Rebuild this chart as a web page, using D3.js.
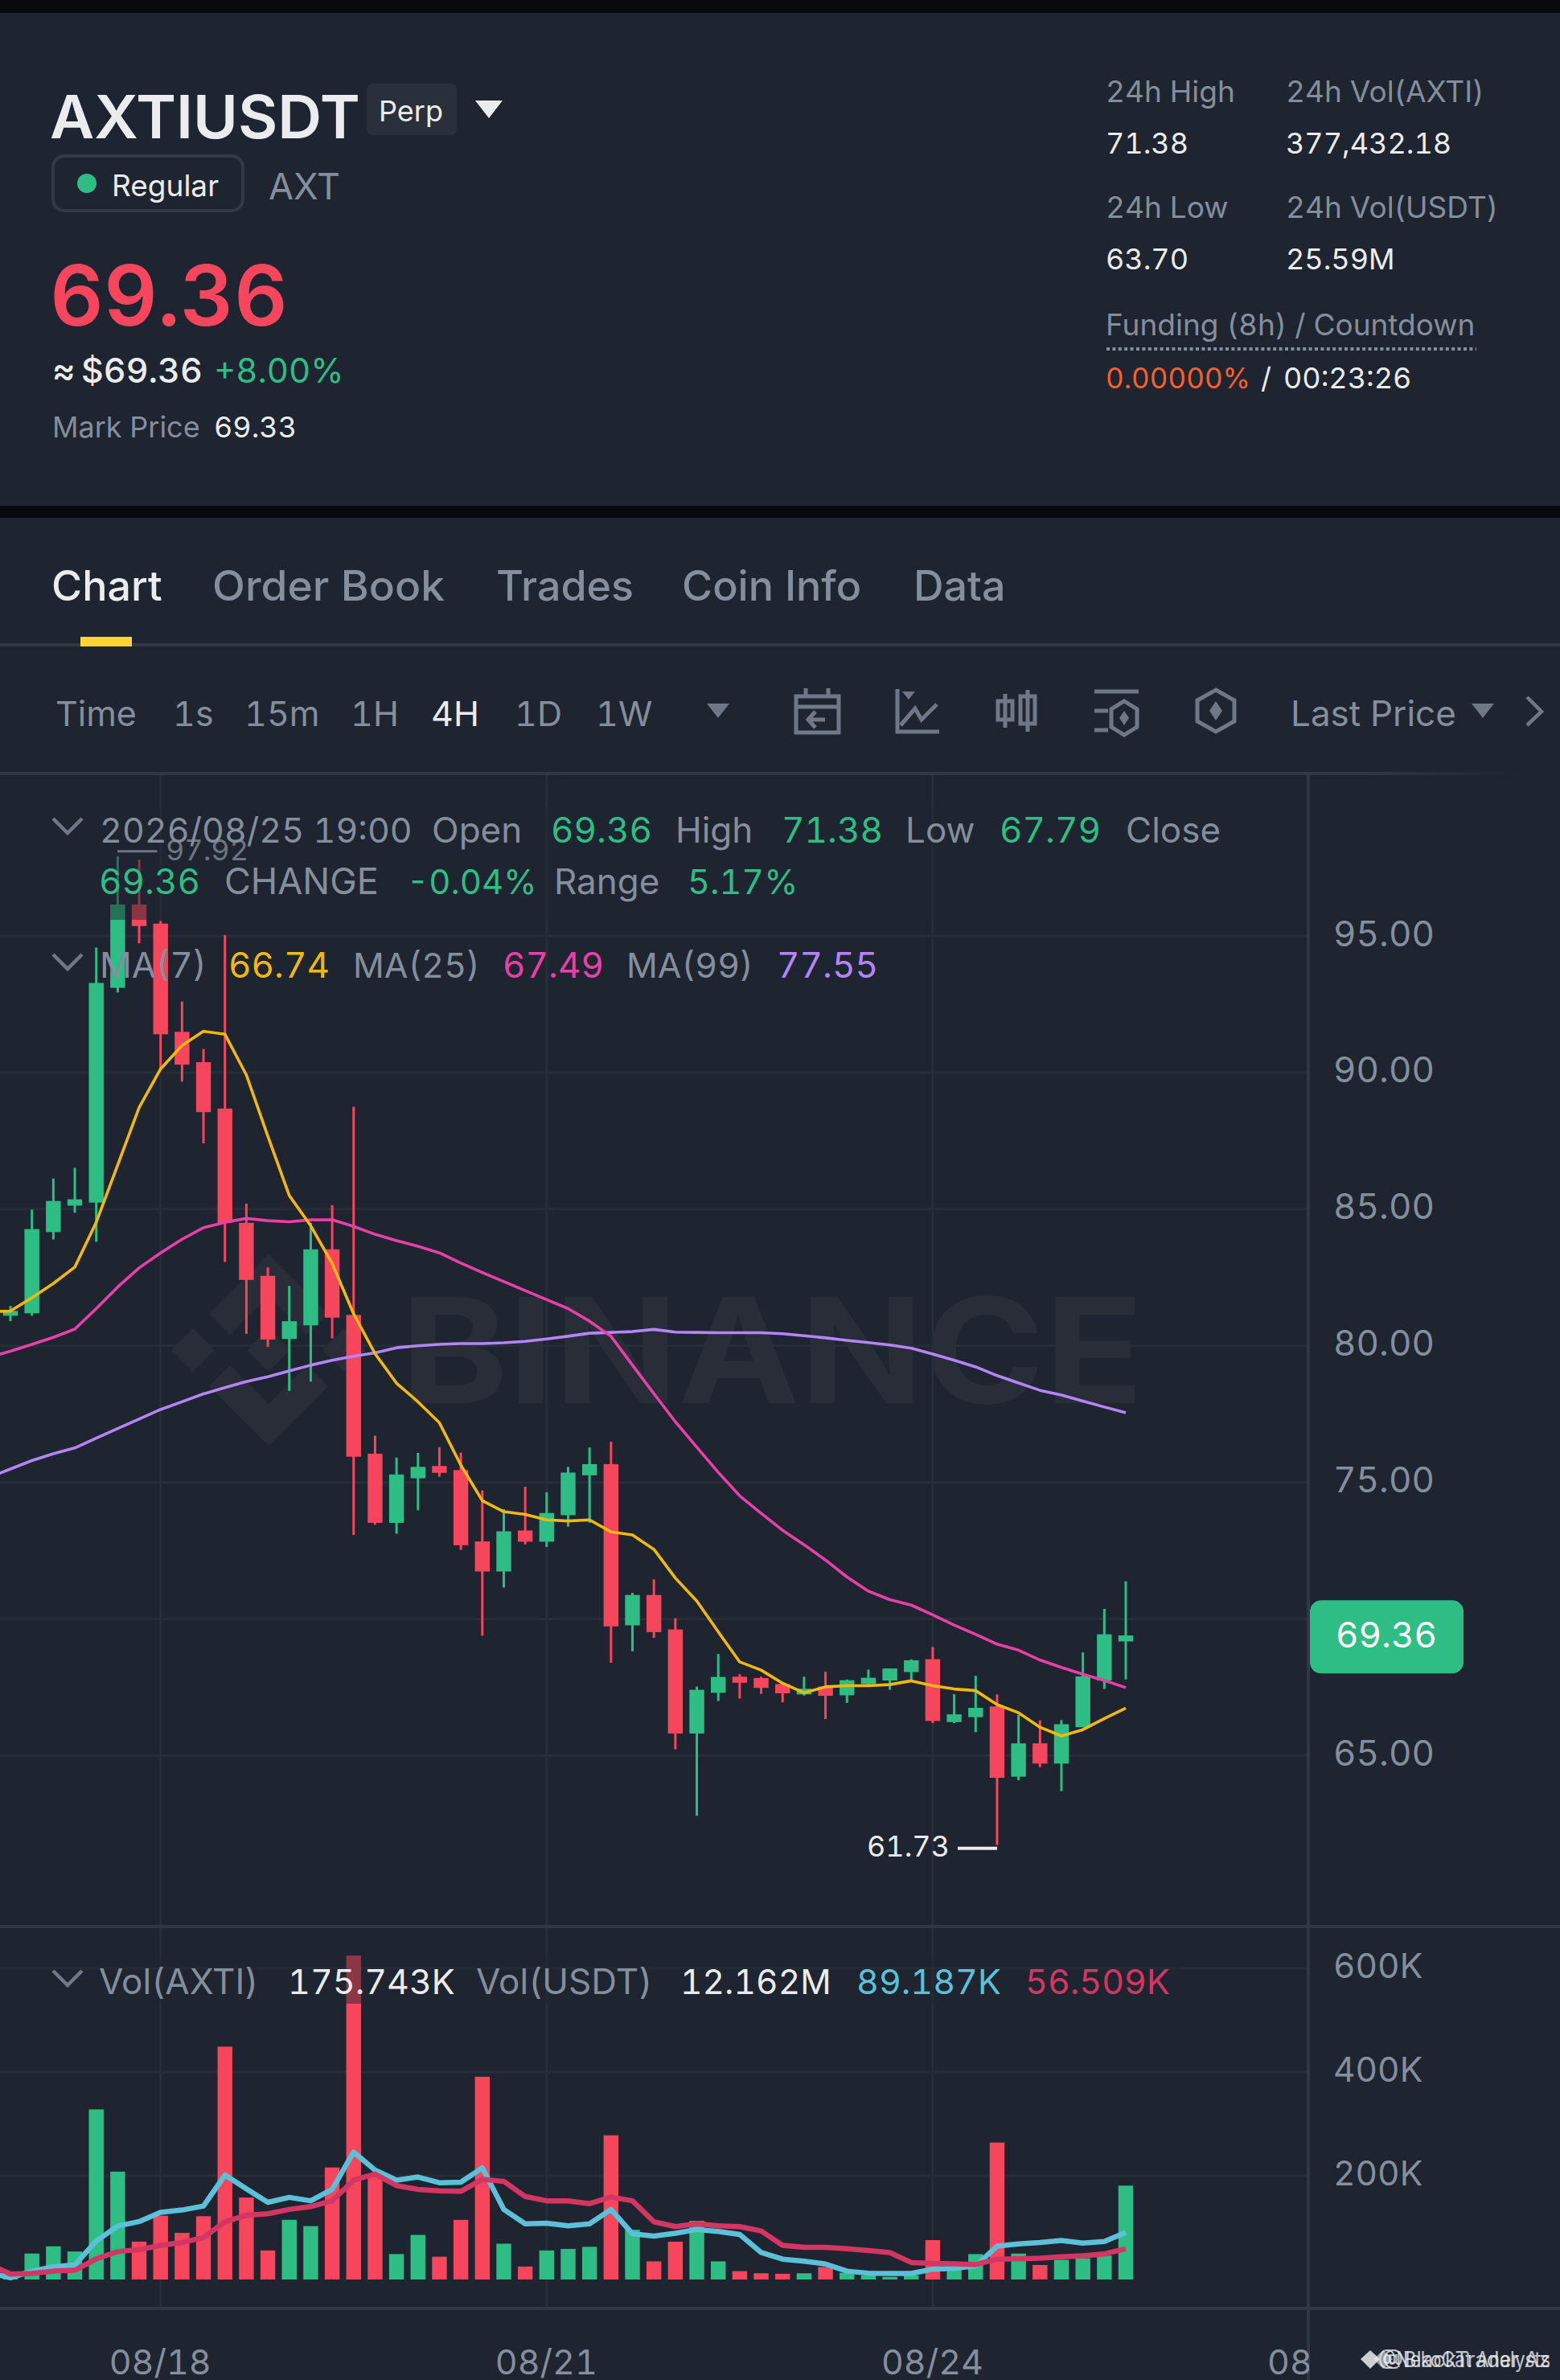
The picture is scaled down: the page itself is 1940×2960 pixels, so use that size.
<!DOCTYPE html>
<html>
<head>
<meta charset="utf-8">
<title>AXTIUSDT</title>
<script src="https://cdn.jsdelivr.net/npm/d3@7"></script>
<style>
  html, body { margin: 0; padding: 0; background: #1e2530; }
  svg { display: block; }
  text { font-family: Inter, "Noto Sans", sans-serif; font-variant-numeric: tabular-nums; font-feature-settings: "tnum"; }
  .domain { display: none; }
</style>
</head>
<body>
<svg id="chart" width="1940" height="2960"></svg>
<script>
//

const opens = [81.10, 81.19, 84.16, 85.13, 85.24, 93.10, 96.15, 95.45, 91.49, 90.38, 88.68, 84.50, 82.56, 80.25, 80.75, 83.53, 81.13, 76.05, 73.52, 75.15, 75.60, 75.45, 72.84, 71.74, 73.24, 72.83, 73.80, 75.26, 75.67, 69.77, 70.88, 69.62, 65.81, 67.30, 67.89, 67.84, 67.62, 67.24, 67.53, 67.21, 67.62, 67.75, 68.06, 68.53, 66.23, 66.41, 66.80, 64.23, 65.45, 64.71, 66.04, 67.75, 69.18]
const highs = [81.46, 84.98, 86.12, 86.51, 94.57, 97.92, 97.79, 95.55, 92.60, 90.86, 95.03, 85.20, 82.87, 82.19, 84.50, 85.15, 88.75, 76.71, 75.91, 76.08, 76.29, 76.09, 74.71, 74.02, 74.84, 74.64, 75.57, 76.28, 76.49, 70.96, 71.45, 70.03, 67.53, 68.72, 67.98, 67.89, 67.67, 67.89, 68.07, 67.79, 68.15, 68.19, 68.52, 68.98, 67.25, 67.92, 67.24, 66.49, 66.29, 66.30, 68.78, 70.37, 71.38]
const lows = [80.90, 81.10, 83.89, 84.87, 83.80, 92.93, 94.73, 90.13, 89.67, 87.41, 83.07, 80.44, 79.96, 78.35, 78.69, 80.27, 73.08, 73.45, 73.12, 73.98, 75.21, 72.53, 69.39, 71.15, 72.73, 72.64, 73.38, 73.52, 68.40, 68.82, 69.31, 65.23, 62.80, 67.00, 67.09, 67.26, 66.95, 67.20, 66.34, 66.93, 67.58, 67.41, 67.75, 66.19, 66.19, 65.86, 61.73, 64.10, 64.58, 63.70, 66.04, 67.44, 67.79]
const closes = [81.28, 84.27, 85.30, 85.36, 93.28, 96.15, 95.36, 91.40, 90.29, 88.55, 84.50, 82.41, 80.23, 80.90, 83.53, 81.03, 75.94, 73.52, 75.29, 75.57, 75.35, 72.70, 71.74, 73.21, 72.83, 73.88, 75.36, 75.67, 69.73, 70.88, 69.52, 65.81, 67.41, 67.88, 67.67, 67.48, 67.28, 67.45, 67.19, 67.76, 67.85, 68.19, 68.49, 66.27, 66.51, 66.75, 64.19, 65.45, 64.71, 66.15, 67.90, 69.44, 69.40]

// moving averages start one candle before the first visible one
const ma7 = [81.25, 81.27, 81.76, 82.28, 82.88, 84.52, 86.62, 88.72, 90.13, 90.99, 91.51, 91.40, 89.91, 87.67, 85.50, 84.39, 83.01, 81.17, 79.71, 78.63, 77.95, 77.18, 75.63, 74.33, 73.93, 73.83, 73.63, 73.59, 73.63, 73.19, 73.08, 72.55, 71.50, 70.66, 69.53, 68.43, 68.13, 67.65, 67.30, 67.52, 67.56, 67.56, 67.60, 67.74, 67.56, 67.44, 67.38, 66.87, 66.57, 66.04, 65.72, 65.95, 66.36, 66.74]
const ma25 = [79.59, 79.80, 80.05, 80.31, 80.61, 81.36, 82.15, 82.85, 83.40, 83.90, 84.32, 84.52, 84.66, 84.58, 84.54, 84.61, 84.61, 84.37, 84.08, 83.85, 83.64, 83.40, 83.03, 82.68, 82.35, 82.02, 81.69, 81.36, 80.90, 80.35, 79.29, 78.25, 77.22, 76.29, 75.37, 74.51, 73.87, 73.25, 72.72, 72.16, 71.54, 71.02, 70.71, 70.51, 70.15, 69.78, 69.44, 69.08, 68.86, 68.50, 68.23, 67.98, 67.75, 67.49]
const ma99 = [75.18, 75.49, 75.80, 76.05, 76.26, 76.62, 76.97, 77.32, 77.67, 77.95, 78.24, 78.47, 78.69, 78.87, 79.08, 79.29, 79.47, 79.62, 79.74, 79.93, 80.00, 80.05, 80.08, 80.08, 80.11, 80.16, 80.25, 80.35, 80.46, 80.49, 80.52, 80.60, 80.50, 80.49, 80.48, 80.48, 80.48, 80.44, 80.37, 80.29, 80.20, 80.12, 80.03, 79.91, 79.70, 79.47, 79.23, 78.91, 78.64, 78.37, 78.20, 77.98, 77.76, 77.55]

const volumes = [9, 50, 64, 54, 328, 208, 73, 123, 90, 122, 449, 158, 56, 115, 103, 216, 624, 200, 49, 86, 44, 115, 391, 69, 25, 56, 59, 63, 278, 96, 35, 73, 113, 35, 16, 12, 11, 12, 24, 13, 8, 5, 8, 76, 22, 49, 264, 50, 28, 38, 41, 46, 181]
const volFast = [13.3, 3.3, 16.1, 24.4, 28.2, 74.2, 103, 111.8, 129.5, 134, 141.7, 201.5, 174.9, 148.9, 158.3, 151.7, 173.8, 245.8, 210.9, 191.5, 197.6, 186.6, 187.7, 215.3, 135.1, 107.4, 108.5, 103.5, 107.4, 135.1, 88, 83.6, 89.1, 96.3, 92.5, 86.9, 52, 39.3, 35.4, 29.9, 16.1, 12.2, 11.6, 11.6, 19.9, 21.6, 26, 64.2, 68.6, 71.4, 75.3, 70.3, 73.1, 90.8]
const volSlow = [29.9, 10.5, 11.6, 16.1, 17.7, 39.9, 53.7, 57.6, 65.9, 71.4, 80.8, 111.3, 124, 126.8, 135.1, 140.6, 151.7, 191.5, 203.2, 181, 173.8, 171.1, 170, 193.2, 189.3, 160, 151.7, 151.7, 146.2, 158.9, 151.7, 111.3, 101.9, 107.4, 103.5, 101.9, 93.6, 65.9, 62, 62, 59.2, 55.9, 52, 32.7, 31, 30.4, 28.8, 39.3, 39.9, 41, 43.7, 45.9, 49.3, 59.2]

const priceGrid = [95, 90, 85, 80, 75, 70, 65]
const priceTicks = [95, 90, 85, 80, 75, 65]
const volTicks = [200, 400, 600]
const dateIndex = [7, 25, 43, 61]
const dateLabels = ['08/18', '08/21', '08/24', '08/27']

const tabNames = ['Chart', 'Order Book', 'Trades', 'Coin Info', 'Data']
const intervalNames = ['Time', '1s', '15m', '1H', '4H', '1D', '1W']

//

const UP = '#2ebd85'
const DOWN = '#f6465d'
const BG = '#1e2530'
const GRID = '#272e39'
const RULE = '#313845'
const GREY = '#848e9c'
const LIGHT = '#eaecef'
const ICON = '#6f7886'
const YELLOW = '#f0b90b'
const PINK = '#e83fa8'
const PURPLE = '#b585f7'
const TEAL = '#5bc0d8'
const CRIMSON = '#d43663'

const svg = d3.select('#chart')

function label (x, y, str, size, fill, weight, anchor) {
  return svg.append('text')
    .attr('x', x - 2)
    .attr('y', y)
    .attr('font-size', size)
    .attr('font-weight', weight || 400)
    .attr('text-anchor', anchor || 'start')
    .attr('fill', fill)
    .text(str)
}

function rule (x1, y1, x2, y2, color, width) {
  return svg.append('line')
    .attr('x1', x1).attr('y1', y1)
    .attr('x2', x2).attr('y2', y2)
    .attr('stroke', color)
    .attr('stroke-width', width)
}

function shape (d, fill, stroke, width) {
  return svg.append('path')
    .attr('d', d)
    .attr('fill', fill || 'none')
    .attr('stroke', stroke || 'none')
    .attr('stroke-width', width || 0)
}

function chevron (x, y) {
  shape(`M${x} ${y}L${x + 18} ${y + 18}L${x + 36} ${y}`, null, ICON, 4.5)
}

// page blocks

svg.append('rect').attr('width', 1940).attr('height', 2960).attr('fill', BG)
svg.append('rect').attr('width', 1940).attr('height', 16).attr('fill', '#07090d')
svg.append('rect').attr('y', 629).attr('width', 1940).attr('height', 15).attr('fill', '#07090d')

// header, left

label(64, 172, 'AXTIUSDT', 74, LIGHT, 600).attr('textLength', 386).attr('lengthAdjust', 'spacingAndGlyphs')
svg.append('rect').attr('x', 456).attr('y', 104).attr('width', 112).attr('height', 64).attr('rx', 7).attr('fill', '#2a303b')
label(473, 151, 'Perp', 36, LIGHT)
shape('M591 125L625 125L608 147Z', LIGHT)
svg.append('rect').attr('x', 66).attr('y', 194).attr('width', 236).attr('height', 68).attr('rx', 14)
  .attr('fill', 'none').attr('stroke', '#333a46').attr('stroke-width', 4)
svg.append('circle').attr('cx', 108).attr('cy', 228).attr('r', 12).attr('fill', UP)
label(141, 244, 'Regular', 37, LIGHT)
label(336, 248, 'AXT', 45, GREY)
label(64, 405, '69.36', 104, DOWN, 600).attr('textLength', 296).attr('lengthAdjust', 'spacingAndGlyphs')
label(67, 476, '≈', 44, LIGHT, 500)
label(103, 476, '$69.36', 43, LIGHT, 500)
label(268, 476, '+8.00%', 42, UP, 400)
label(67, 544, 'Mark Price', 36, GREY)
label(268, 544, '69.33', 36, LIGHT)

// header, right

label(1377, 127, '24h High', 37, GREY)
label(1377, 191, '71.38', 36, LIGHT)
label(1601, 127, '24h Vol(AXTI)', 37, GREY)
label(1601, 191, '377,432.18', 36, LIGHT)
label(1377, 271, '24h Low', 37, GREY)
label(1377, 335, '63.70', 36, LIGHT)
label(1601, 271, '24h Vol(USDT)', 37, GREY)
label(1601, 335, '25.59M', 36, LIGHT)
label(1377, 417, 'Funding (8h) / Countdown', 37, GREY)
rule(1376, 434, 1836, 434, GREY, 4).attr('stroke-dasharray', '4 3.4')
label(1377, 483, '0.00000%', 35, '#f6602d')
label(1570, 483, '/', 36, LIGHT)
label(1598, 483, '00:23:26', 36, LIGHT)

// tabs

const tabX = [66, 266, 619, 850, 1138]
tabNames.forEach((name, i) => {
  const t = label(tabX[i], 747, name, 52, i === 0 ? LIGHT : GREY, 500)
  if (name === 'Order Book') {
    t.attr('textLength', 289).attr('lengthAdjust', 'spacingAndGlyphs')
  }
})
rule(0, 802, 1940, 802, RULE, 4)
svg.append('rect').attr('x', 100).attr('y', 792).attr('width', 64).attr('height', 12).attr('fill', '#fcd535')

// toolbar

const intervalX = [71, 217, 306, 438, 538, 642, 743]
intervalNames.forEach((name, i) => {
  label(intervalX[i], 903, name, 43, name === '4H' ? LIGHT : GREY)
})
shape('M879 875L907 875L893 893Z', ICON)
shape('M990 866H1043V911H990ZM990 879H1043M1002 856V866M1030 856V866', null, ICON, 5)
shape('M1026 895H1006M1014 885L1005 895L1014 905', null, ICON, 5)
shape('M1116 857V910H1168', null, ICON, 5)
shape('M1122 860H1138L1130 870Z', ICON)
shape('M1120 902L1138 881L1146 895L1165 876', null, ICON, 5)
shape('M1241 872H1259V895H1241ZM1250 863V905M1269 866H1287V900H1269ZM1278 858V910', null, ICON, 5)
shape('M1361 860H1416M1361 884H1378M1361 908H1378', null, ICON, 5)
shape('M1398 872L1414 882V904L1398 914L1382 904V882Z', null, ICON, 5)
shape('M1398 884L1404 893L1398 902L1392 893Z', ICON)
shape('M1512 858L1535 871V897L1512 910L1489 897V871Z', null, ICON, 5)
shape('M1512 872L1520 884L1512 896L1504 884Z', ICON)
label(1607, 903, 'Last Price', 44, GREY)
shape('M1830 875L1858 875L1844 893Z', ICON)
shape('M1899 867L1917 885L1899 902', null, ICON, 4.5)

//

const defs = svg.append('defs')
const fade = defs.append('linearGradient').attr('id', 'fade')
fade.append('stop').attr('offset', 0.9).attr('stop-color', RULE)
fade.append('stop').attr('offset', 1).attr('stop-color', BG)
svg.append('rect').attr('y', 960).attr('width', 1890).attr('height', 4).attr('fill', 'url(#fade)')

defs.append('clipPath').attr('id', 'plot')
  .append('rect').attr('width', 1627).attr('height', 2960)

const x = d3.scaleLinear().domain([0, 52]).range([13, 1400])
const y = d3.scaleLinear().domain([95, 65]).range([1164, 2183.5])
const yVol = d3.scaleLinear().domain([0, 600]).range([2835, 2448])

const bodyW = 18.4
const isUp = (i) => closes[i] >= opens[i]
const color = (i) => isUp(i) ? UP : DOWN

// grid

svg.append('g').selectAll('line').data(priceGrid).join('line')
  .attr('x1', 0).attr('x2', 1627)
  .attr('y1', (d) => y(d)).attr('y2', (d) => y(d))
  .attr('stroke', GRID).attr('stroke-width', 3)

svg.append('g').selectAll('line').data(volTicks).join('line')
  .attr('x1', 0).attr('x2', 1627)
  .attr('y1', (d) => yVol(d)).attr('y2', (d) => yVol(d))
  .attr('stroke', GRID).attr('stroke-width', 3)

svg.append('g').selectAll('line').data(dateIndex.slice(0, 3)).join('line')
  .attr('x1', (d) => x(d)).attr('x2', (d) => x(d))
  .attr('y1', 964).attr('y2', 2869)
  .attr('stroke', GRID).attr('stroke-width', 3)

// watermark

const MARK = '#282d37'
const markCx = 334
const markCy = 1679

function diamond (cx, cy, r) {
  shape(`M${cx} ${cy - r}L${cx + r} ${cy}L${cx} ${cy + r}L${cx - r} ${cy}Z`, MARK)
}
diamond(markCx, markCy, 27)
diamond(markCx - 94, markCy, 27)
diamond(markCx + 94, markCy, 27)
shape(`M${markCx} ${markCy - 119}L${markCx + 74} ${markCy - 45}L${markCx + 48} ${markCy - 19}L${markCx} ${markCy - 67}L${markCx - 48} ${markCy - 19}L${markCx - 74} ${markCy - 45}Z`, MARK)
shape(`M${markCx} ${markCy + 119}L${markCx + 74} ${markCy + 45}L${markCx + 48} ${markCy + 19}L${markCx} ${markCy + 67}L${markCx - 48} ${markCy + 19}L${markCx - 74} ${markCy + 45}Z`, MARK)
label(500, 1745, 'BINANCE', 182, MARK, 700).attr('textLength', 924).attr('lengthAdjust', 'spacingAndGlyphs')

rule(0, 2396, 1940, 2396, RULE, 4)
rule(0, 2871, 1940, 2871, RULE, 4)
rule(1627, 964, 1627, 2960, RULE, 4)

// candles

const candles = svg.append('g').attr('clip-path', 'url(#plot)')
const index = d3.range(opens.length)

candles.selectAll('.wick').data(index).join('line')
  .attr('class', 'wick')
  .attr('x1', (i) => x(i)).attr('x2', (i) => x(i))
  .attr('y1', (i) => y(highs[i])).attr('y2', (i) => y(lows[i]))
  .attr('stroke', color).attr('stroke-width', 3)

candles.selectAll('.body').data(index).join('rect')
  .attr('class', 'body')
  .attr('x', (i) => x(i) - bodyW / 2)
  .attr('width', bodyW)
  .attr('y', (i) => y(Math.max(opens[i], closes[i])))
  .attr('height', (i) => Math.max(2, Math.abs(y(opens[i]) - y(closes[i]))))
  .attr('fill', color)

const priceLine = d3.line().x((d, i) => x(i - 1)).y((d) => y(d))
const volLine = d3.line().x((d, i) => x(i - 1)).y((d) => yVol(d))

;[[ma99, PURPLE], [ma25, PINK], [ma7, YELLOW]].forEach(([values, stroke]) => {
  candles.append('path').datum(values)
    .attr('d', priceLine)
    .attr('fill', 'none')
    .attr('stroke', stroke)
    .attr('stroke-width', 3.6)
    .attr('stroke-linejoin', 'round')
})

// volume

candles.selectAll('.vol').data(index).join('rect')
  .attr('class', 'vol')
  .attr('x', (i) => x(i) - bodyW / 2)
  .attr('width', bodyW)
  .attr('y', (i) => yVol(volumes[i]))
  .attr('height', (i) => yVol(0) - yVol(volumes[i]))
  .attr('fill', color)

;[[volFast, TEAL], [volSlow, CRIMSON]].forEach(([values, stroke]) => {
  candles.append('path').datum(values)
    .attr('d', volLine)
    .attr('fill', 'none')
    .attr('stroke', stroke)
    .attr('stroke-width', 6.5)
    .attr('stroke-linejoin', 'round')
})

// legend backdrops dim what runs underneath

svg.append('rect').attr('y', 1005).attr('width', 1540).attr('height', 139).attr('fill', BG).attr('opacity', 0.5)
svg.append('rect').attr('y', 2433).attr('width', 1470).attr('height', 59).attr('fill', BG).attr('opacity', 0.5)

// high and low markers

const hiIdx = d3.greatestIndex(highs)
const loIdx = d3.leastIndex(lows)

rule(146, y(highs[hiIdx]) - 6, x(hiIdx) + 49, y(highs[hiIdx]) - 6, '#6d7582', 3)
label(208, y(highs[hiIdx]) + 5, d3.format('.2f')(highs[hiIdx]), 36, '#6d7582')
rule(1191, y(lows[loIdx]) + 4, x(loIdx), y(lows[loIdx]) + 4, LIGHT, 4)
label(1080, y(lows[loIdx]) + 14, d3.format('.2f')(lows[loIdx]), 36, LIGHT)

// legends

chevron(66, 1018)
label(126, 1048, '2026/08/25 19:00', 43, GREY)
label(539, 1048, 'Open', 44, GREY)
label(687, 1048, '69.36', 44, UP)
label(842, 1048, 'High', 44, GREY)
label(974, 1048, '71.38', 44, UP)
label(1128, 1048, 'Low', 44, GREY)
label(1245, 1048, '67.79', 44, UP)
label(1402, 1048, 'Close', 44, GREY)
label(125, 1112, '69.36', 44, UP)
label(281, 1112, 'CHANGE', 45, GREY)
label(508, 1112, '-0.04%', 42, UP)
label(691, 1112, 'Range', 44, GREY)
label(857, 1112, '5.17%', 43, UP)

chevron(66, 1187)
label(126, 1216, 'MA(7)', 44, GREY)
label(286, 1216, '66.74', 44, YELLOW)
label(441, 1216, 'MA(25)', 43, GREY)
label(627, 1216, '67.49', 44, PINK)
label(781, 1216, 'MA(99)', 43, GREY)
label(968, 1216, '77.55', 44, PURPLE)

chevron(66, 2451)
label(125, 2480, 'Vol(AXTI)', 44, GREY)
label(360, 2480, '175.743K', 43, LIGHT)
label(594, 2480, 'Vol(USDT)', 44, GREY)
label(848, 2480, '12.162M', 42.5, LIGHT)
label(1067, 2480, '89.187K', 43, TEAL)
label(1277, 2480, '56.509K', 43, CRIMSON)

// axes

const priceAxis = d3.axisRight(y)
  .tickValues(priceTicks)
  .tickSize(0)
  .tickPadding(0)
  .tickFormat(d3.format('.2f'))

svg.append('g').attr('transform', 'translate(1658, 0)').call(priceAxis)
  .call((g) => g.selectAll('text')
    .attr('font-size', 44).attr('fill', GREY).attr('dy', 12))

const volAxis = d3.axisRight(yVol)
  .tickValues(volTicks)
  .tickSize(0)
  .tickPadding(0)
  .tickFormat((d) => d + 'K')

svg.append('g').attr('transform', 'translate(1658, 0)').call(volAxis)
  .call((g) => g.selectAll('text')
    .attr('font-size', 42.5).attr('fill', GREY).attr('dy', 11))

const dateFor = d3.scaleOrdinal().domain(dateIndex).range(dateLabels)
const dateAxis = d3.axisBottom(x)
  .tickValues(dateIndex)
  .tickSize(0)
  .tickPadding(0)
  .tickFormat((d) => dateFor(d))

defs.append('clipPath').attr('id', 'dateClip')
  .append('rect').attr('y', -60).attr('width', 1629).attr('height', 66)

svg.append('g').attr('transform', 'translate(-1, 2953)').attr('clip-path', 'url(#dateClip)').call(dateAxis)
  .call((g) => g.selectAll('text')
    .attr('font-size', 43).attr('fill', GREY).attr('dy', 0).attr('y', 0))

// last price tag

const lastPrice = 69.36
svg.append('rect')
  .attr('x', 1629).attr('y', y(lastPrice) - 45)
  .attr('width', 191).attr('height', 91)
  .attr('rx', 14)
  .attr('fill', UP)
label(1663, y(lastPrice) + 14, d3.format('.2f')(lastPrice), 44, '#ffffff')

// reposted by

shape('M1704 2923L1716 2934L1704 2946L1692 2934Z', LIGHT).attr('opacity', 0.85)
shape('M1720 2923L1732 2934L1720 2946L1708 2934Z', LIGHT).attr('opacity', 0.6)
label(1716, 2944, '@NekoCat Analysts', 27, LIGHT).attr('opacity', 0.8).attr('textLength', 214).attr('lengthAdjust', 'spacingAndGlyphs')
label(1722, 2944, '@BlackTrader Az', 27, LIGHT).attr('opacity', 0.8).attr('textLength', 208).attr('lengthAdjust', 'spacingAndGlyphs')
</script>
</body>
</html>
